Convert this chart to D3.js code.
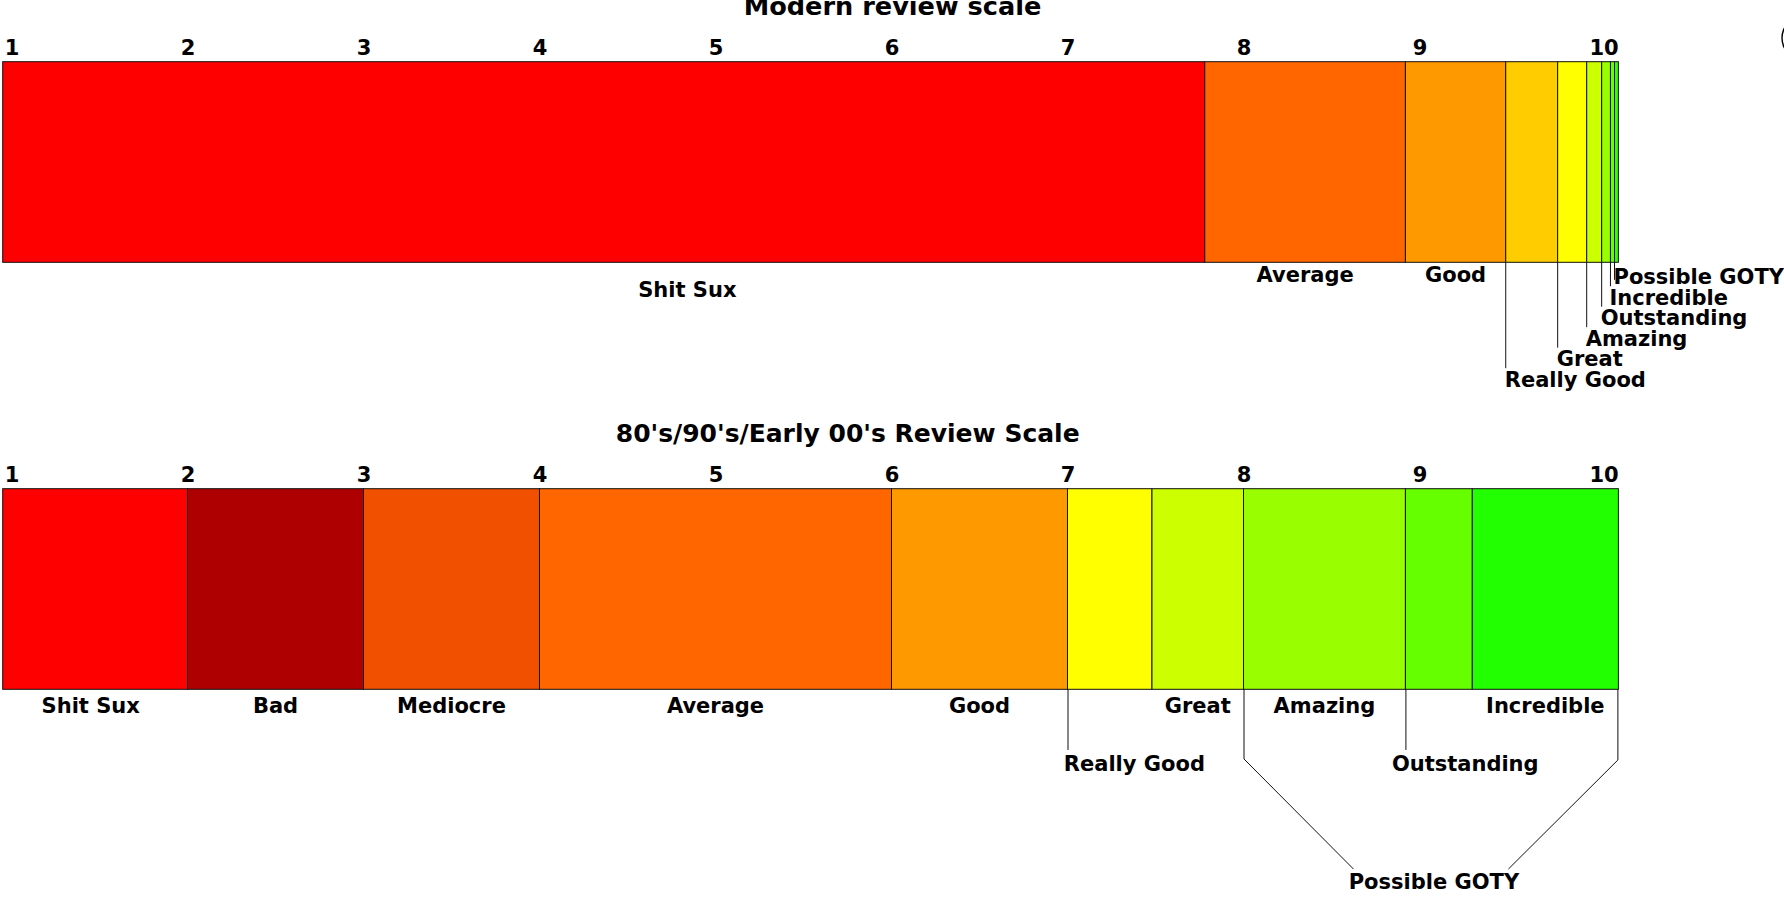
<!DOCTYPE html>
<html>
<head>
<meta charset="utf-8">
<script src="https://cdn.jsdelivr.net/npm/d3@7"></script>
<style>
  html, body { margin: 0; padding: 0; background: #fff; overflow: hidden; }
  svg { display: block; }
  text { font-family: "DejaVu Sans", Verdana, sans-serif; font-weight: bold; fill: #000; }
</style>
</head>
<body>
<div id="chart"></div>
<script>
// score ticks shared by both bars
const ticks = [1, 2, 3, 4, 5, 6, 7, 8, 9, 10];

// modern scale: segment edges (score units), names, fills
const modernEdges = [0.95, 7.78, 8.92, 9.49, 9.785, 9.95, 10.035, 10.085, 10.108, 10.13];
const modernNames = ["Shit Sux", "Average", "Good", "Really Good", "Great", "Amazing", "Outstanding", "Incredible", "Possible GOTY"];
const modernColors = ["#ff0000", "#ff6600", "#ff9900", "#ffcc00", "#ffff00", "#ccff00", "#99ff00", "#66ff00", "#33ff00"];
// where the in-line labels sit (null = middle of the segment); the rest are call-outs
const modernLabelAt = [4.84, null, null];

// 80's/90's/early 00's scale
const oldEdges = [0.95, 2, 3, 4, 6, 7, 7.48, 8, 8.92, 9.3, 10.13];
const oldNames = ["Shit Sux", "Bad", "Mediocre", "Average", "Good", "Really Good", "Great", "Amazing", "Outstanding", "Incredible"];
const oldColors = ["#ff0000", "#ae0000", "#f05000", "#ff6600", "#ff9900", "#ffff00", "#ccff00", "#99ff00", "#66ff00", "#22ff00"];
const oldLabelAt = [1.45];
const oldCallouts = ["Really Good", "Outstanding"];
const oldCalloutAt = [7.38, 9.26];
const gotyRange = [8, 10.13];

const width = 1784, height = 904;
const barH = 200.6;

const svg = d3.select("#chart").append("svg")
  .attr("width", width)
  .attr("height", height);

svg.append("rect").attr("width", width).attr("height", height).attr("fill", "#fff");

const x = d3.scaleLinear().domain([1, 10]).range([11.5, 1595.5]);

const segs = (edges, names, colors) =>
  names.map((name, i) => ({ name, i, x0: edges[i], x1: edges[i + 1], color: colors[i] }));

function drawBar(g, data) {
  g.selectAll("rect.seg")
    .data(data)
    .join("rect")
    .attr("class", "seg")
    .attr("x", d => x(d.x0))
    .attr("width", d => x(d.x1) - x(d.x0))
    .attr("y", 0)
    .attr("height", barH)
    .attr("fill", d => d.color)
    .attr("stroke", "#111")
    .attr("stroke-width", 1);

  const ax = g.append("g")
    .call(d3.axisTop(x).tickValues(ticks).tickSize(0).tickPadding(7).tickFormat(d3.format("d")));
  ax.select(".domain").remove();
  ax.selectAll(".tick text")
    .style("font-size", "21px")
    .style("font-family", "'DejaVu Sans', Verdana, sans-serif")
    .style("font-weight", "bold")
    .attr("fill", "#000");
  ax.selectAll(".tick text").filter(d => d === 10).attr("dx", 8);
}

const labelFont = "21px";
const leadLine = sel => sel.attr("stroke", "#111").attr("stroke-width", 1).attr("fill", "none");

// ---- modern review scale ----
svg.append("text")
  .attr("x", 892.5).attr("y", 15)
  .attr("text-anchor", "middle")
  .style("font-size", "25.6px")
  .text("Modern review scale");

const modernG = svg.append("g").attr("transform", "translate(0,61.7)");
const modern = segs(modernEdges, modernNames, modernColors);
drawBar(modernG, modern);

modernG.selectAll("text.inl")
  .data(modern.filter(d => d.i < modernLabelAt.length))
  .join("text")
  .attr("class", "inl")
  .attr("x", d => x(modernLabelAt[d.i] ?? (d.x0 + d.x1) / 2))
  .attr("y", d => d.i === 0 ? barH + 34.4 : barH + 19.5)
  .attr("text-anchor", "middle")
  .style("font-size", labelFont)
  .text(d => d.name);

// stair-stepped call-outs for the thin slices at the top end
const callouts = modern.filter(d => d.i >= modernLabelAt.length);
const rowY = k => barH + 124.4 - k * 20.5;

modernG.selectAll("line.lead")
  .data(callouts)
  .join("line")
  .attr("class", "lead")
  .attr("x1", d => x(d.x0)).attr("x2", d => x(d.x0))
  .attr("y1", barH).attr("y2", (d, k) => Math.max(rowY(k) - 18.5, barH + 17.5))
  .call(leadLine);

modernG.selectAll("text.call")
  .data(callouts)
  .join("text")
  .attr("class", "call")
  .attr("x", d => x(d.x0) - 1)
  .attr("y", (d, k) => rowY(k))
  .style("font-size", labelFont)
  .text(d => d.name);

// ---- 80's/90's/early 00's scale ----
svg.append("text")
  .attr("x", 847.7).attr("y", 442.3)
  .attr("text-anchor", "middle")
  .style("font-size", "25px")
  .text("80's/90's/Early 00's Review Scale");

const oldG = svg.append("g").attr("transform", "translate(0,488.7)");
const old = segs(oldEdges, oldNames, oldColors);
drawBar(oldG, old);

oldG.selectAll("text.inl")
  .data(old.filter(d => !oldCallouts.includes(d.name)))
  .join("text")
  .attr("class", "inl")
  .attr("x", d => x(oldLabelAt[d.i] ?? (d.x0 + d.x1) / 2))
  .attr("y", barH + 24)
  .attr("text-anchor", "middle")
  .style("font-size", labelFont)
  .text(d => d.name);

const oldCall = old.filter(d => oldCallouts.includes(d.name));
oldG.selectAll("line.lead")
  .data(oldCall)
  .join("line")
  .attr("class", "lead")
  .attr("x1", d => x(d.x0) + 0.5).attr("x2", d => x(d.x0) + 0.5)
  .attr("y1", barH).attr("y2", 261.3)
  .call(leadLine);

oldG.selectAll("text.call")
  .data(oldCall)
  .join("text")
  .attr("class", "call")
  .attr("x", d => x(oldCalloutAt[oldCallouts.indexOf(d.name)]))
  .attr("y", 282.3)
  .attr("text-anchor", "middle")
  .style("font-size", labelFont)
  .text(d => d.name);

// bracket grouping the top of the old scale as possible GOTY
const gl = x(gotyRange[0]) + 0.5, gr = x(gotyRange[1]) - 0.5;
const gc = (gl + gr) / 2;
const bracket = d3.line();
oldG.append("path")
  .attr("d", bracket([[gl, barH], [gl, 270.3], [gc - 77.5, 380.3]]))
  .call(leadLine);
oldG.append("path")
  .attr("d", bracket([[gr, barH], [gr, 271.3], [gc + 77.5, 380.3]]))
  .call(leadLine);
oldG.append("text")
  .attr("x", gc + 3)
  .attr("y", 400.6)
  .attr("text-anchor", "middle")
  .style("font-size", labelFont)
  .text("Possible GOTY");

// mark clipped by the right edge of the original image
svg.append("text")
  .attr("x", 1773).attr("y", 59.5)
  .style("font-size", "60px")
  .style("font-weight", "200")
  .attr("fill", "#333")
  .text("©");
</script>
</body>
</html>
